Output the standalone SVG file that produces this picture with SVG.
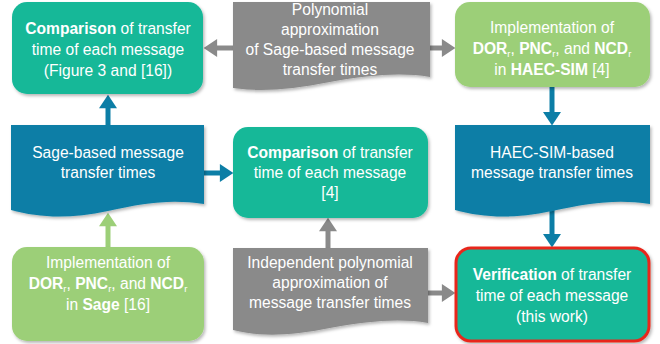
<svg xmlns="http://www.w3.org/2000/svg" width="660" height="344" viewBox="0 0 660 344">
<defs>
<filter id="sh" x="-10%" y="-10%" width="125%" height="130%">
<feDropShadow dx="1.5" dy="2" stdDeviation="1.5" flood-color="#000" flood-opacity="0.28"/>
</filter>
<marker id="hb" markerUnits="userSpaceOnUse" markerWidth="18" markerHeight="18" viewBox="0 0 12 16" refX="1" refY="8" orient="auto"><path d="M0,0 L12,8 L0,16 Z" fill="#0c7ea6"/></marker>
<marker id="hg" markerUnits="userSpaceOnUse" markerWidth="18" markerHeight="18" viewBox="0 0 12 16" refX="1" refY="8" orient="auto"><path d="M0,0 L12,8 L0,16 Z" fill="#8a8a8a"/></marker>
<marker id="hl" markerUnits="userSpaceOnUse" markerWidth="18" markerHeight="18" viewBox="0 0 12 16" refX="1" refY="8" orient="auto"><path d="M0,0 L12,8 L0,16 Z" fill="#9ccf78"/></marker>
</defs>
<style>
.teal{fill:#15b898;filter:url(#sh)}
.green{fill:#9ccf78;filter:url(#sh)}
.blue{fill:#0c7ea6;filter:url(#sh)}
.gray{fill:#8a8a8a;filter:url(#sh)}
.red{stroke:#e8281c;stroke-width:3}
text{font-family:"Liberation Sans",Arial,sans-serif;font-size:15.6px;fill:#fff;text-anchor:middle}
.b{font-weight:bold}
.s{font-size:9.5px}
.ab{stroke:#0c7ea6;stroke-width:5;fill:none;marker-end:url(#hb)}
.ag{stroke:#8a8a8a;stroke-width:5;fill:none;marker-end:url(#hg)}
.al{stroke:#9ccf78;stroke-width:5;fill:none;marker-end:url(#hl)}
</style>
<g id="connectors">
<line class="ag" x1="234" y1="48" x2="216" y2="48"/>
<line class="ag" x1="429" y1="48" x2="443" y2="48"/>
<line class="ab" x1="108" y1="126" x2="108" y2="107"/>
<line class="ab" x1="203" y1="173" x2="221" y2="173"/>
<line class="al" x1="108" y1="248" x2="108" y2="225"/>
<line class="ag" x1="328" y1="250" x2="328" y2="230"/>
<line class="ag" x1="427" y1="293" x2="443" y2="293"/>
<line class="ab" x1="552" y1="86" x2="552" y2="113"/>
<line class="ab" x1="552" y1="210" x2="552" y2="235"/>
</g>
<g id="n1">
<rect class="teal" x="12" y="2" width="191" height="92" rx="15"/>
<text x="108" y="34"><tspan class="b">Comparison</tspan> of transfer</text>
<text x="108" y="55">time of each message</text>
<text x="108" y="76">(Figure 3 and [16])</text>
</g>
<g id="n2">
<path class="gray" d="M233,2 H430 V77 C400,72 370,75 330,82 C290,90 260,92 233,88 Z"/>
<text x="330" y="15">Polynomial</text>
<text x="330" y="35">approximation</text>
<text x="330" y="55">of Sage-based message</text>
<text x="330" y="75">transfer times</text>
</g>
<g id="n3">
<rect class="green" x="455" y="2" width="195" height="85" rx="15"/>
<text x="552" y="33">Implementation of</text>
<text x="552" y="54"><tspan class="b">DOR</tspan><tspan class="s" dy="3">r</tspan><tspan dy="-3">, </tspan><tspan class="b">PNC</tspan><tspan class="s" dy="3">r</tspan><tspan dy="-3">, and </tspan><tspan class="b">NCD</tspan><tspan class="s" dy="3">r</tspan></text>
<text x="552" y="75">in <tspan class="b">HAEC-SIM</tspan> [4]</text>
</g>
<g id="n4">
<path class="blue" d="M11,125 H204 V204 C170,199 145,203 108,211 C70,219 40,218 11,210 Z"/>
<text x="108" y="158">Sage-based message</text>
<text x="108" y="178">transfer times</text>
</g>
<g id="n5">
<rect class="teal" x="233" y="127" width="195" height="91" rx="15"/>
<text x="330" y="158"><tspan class="b">Comparison</tspan> of transfer</text>
<text x="330" y="178">time of each message</text>
<text x="330" y="198">[4]</text>
</g>
<g id="n6">
<path class="blue" d="M455,125 H650 V204 C616,199 590,203 552,211 C514,219 484,218 455,210 Z"/>
<text x="552" y="158">HAEC-SIM-based</text>
<text x="552" y="178">message transfer times</text>
</g>
<g id="n7">
<rect class="green" x="12" y="247" width="192" height="94" rx="15"/>
<text x="108" y="268">Implementation of</text>
<text x="108" y="289"><tspan class="b">DOR</tspan><tspan class="s" dy="3">r</tspan><tspan dy="-3">, </tspan><tspan class="b">PNC</tspan><tspan class="s" dy="3">r</tspan><tspan dy="-3">, and </tspan><tspan class="b">NCD</tspan><tspan class="s" dy="3">r</tspan></text>
<text x="108" y="310">in <tspan class="b">Sage</tspan> [16]</text>
</g>
<g id="n8">
<path class="gray" d="M233,248 H428 V323 C398,318 370,321 330,328 C290,336 260,337 233,330 Z"/>
<text x="330" y="268">Independent polynomial</text>
<text x="330" y="288">approximation of</text>
<text x="330" y="308">message transfer times</text>
</g>
<g id="n9">
<rect class="teal red" x="456" y="248" width="193" height="93" rx="15"/>
<text x="552" y="280"><tspan class="b">Verification</tspan> of transfer</text>
<text x="552" y="301">time of each message</text>
<text x="552" y="322">(this work)</text>
</g>
</svg>
